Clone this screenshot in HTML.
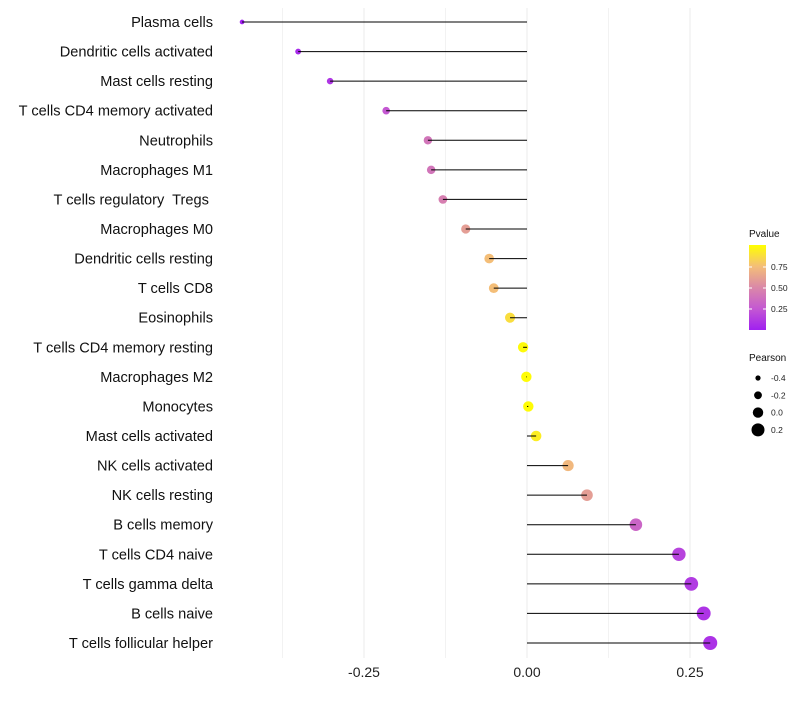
<!DOCTYPE html>
<html><head><meta charset="utf-8"><style>
body{margin:0;background:#fff;font-family:"Liberation Sans",sans-serif}
svg text{font-family:"Liberation Sans",sans-serif;white-space:pre}
</style></head><body>
<svg id="chart" width="800" height="700"></svg>
<script>
const categories=["Plasma cells","Dendritic cells activated","Mast cells resting","T cells CD4 memory activated","Neutrophils","Macrophages M1","T cells regulatory  Tregs ","Macrophages M0","Dendritic cells resting","T cells CD8","Eosinophils","T cells CD4 memory resting","Macrophages M2","Monocytes","Mast cells activated","NK cells activated","NK cells resting","B cells memory","T cells CD4 naive","T cells gamma delta","B cells naive","T cells follicular helper"];
const pearson=[-0.437,-0.351,-0.302,-0.216,-0.152,-0.147,-0.129,-0.094,-0.058,-0.051,-0.026,-0.006,-0.001,0.002,0.014,0.063,0.092,0.167,0.233,0.252,0.271,0.281];
const pvalue=[0.0,0.05,0.1,0.25,0.4,0.4,0.45,0.6,0.75,0.75,0.87,0.98,0.99,0.99,0.93,0.72,0.6,0.32,0.16,0.12,0.09,0.08];
const xTicks=[-0.25,0,0.25];
const xTickLabels=["-0.25","0.00","0.25"];
const pTicks=[0.25,0.5,0.75];
const pTickLabels=["0.25","0.50","0.75"];
const sizeLegend=[-0.4,-0.2,0.0,0.2];
const sizeLegendLabels=["-0.4","-0.2","0.0","0.2"];

const NS="http://www.w3.org/2000/svg";
const svg=document.getElementById('chart');
function mk(t,a,p){const e=document.createElementNS(NS,t);for(const k in a)e.setAttribute(k,a[k]);(p||svg).appendChild(e);return e;}
const x=v=>527+v*652;
const y=i=>22+i*(621/21);
const r=v=>Math.max(1.5,5.2+v*6.5);
function lerp(a,b,t){return a.map((c,i)=>Math.round(c+(b[i]-c)*t));}
const stops=[[0,[160,32,240]],[0.25,[196,88,210]],[0.5,[218,136,168]],[0.75,[244,190,120]],[1,[255,255,0]]];
function col(p){for(let i=1;i<stops.length;i++){if(p<=stops[i][0]){const t=(p-stops[i-1][0])/(stops[i][0]-stops[i-1][0]);const c=lerp(stops[i-1][1],stops[i][1],t);return `rgb(${c})`;}}return 'rgb(255,255,0)';}

[-0.375,-0.125,0.125].forEach(v=>{const g=mk('line',{x1:x(v),x2:x(v),y1:8,y2:658,stroke:'#f2f2f2','stroke-width':1});

});
xTicks.forEach((v,i)=>{const g=mk('line',{x1:x(v),x2:x(v),y1:8,y2:658,stroke:'#ebebeb','stroke-width':1});


const t=mk('text',{x:x(v),y:677,'text-anchor':'middle','font-size':14,fill:'#222'});t.textContent=xTickLabels[i];

});

categories.forEach((c,i)=>{
const t=mk('text',{x:213,y:y(i)+5,'text-anchor':'end','font-size':14.6,fill:'#111'});t.textContent=c;


const d=mk('circle',{cx:x(pearson[i]),cy:y(i),r:r(pearson[i]),fill:col(pvalue[i])});


const l=mk('line',{x1:x(0),x2:x(pearson[i]),y1:y(i),y2:y(i),stroke:'#000','stroke-width':1});


});

const defs=mk('defs',{});
const lg=mk('linearGradient',{id:'pg',x1:0,y1:1,x2:0,y2:0},defs);
stops.forEach(s=>mk('stop',{offset:s[0],'stop-color':`rgb(${s[1]})`},lg));
const lt=mk('text',{x:749,y:237,'font-size':10,fill:'#111'});lt.textContent='Pvalue';


const bar=mk('rect',{x:749,y:245,width:17,height:85,fill:'url(#pg)'});


pTicks.forEach((p,i)=>{const yy=330-p*84;
mk('line',{x1:749,x2:752,y1:yy,y2:yy,stroke:'#fff'});mk('line',{x1:763,x2:766,y1:yy,y2:yy,stroke:'#fff'});
const t=mk('text',{x:771,y:yy+3,'font-size':8.5,fill:'#222'});t.textContent=pTickLabels[i];

});
const st=mk('text',{x:749,y:361,'font-size':10,fill:'#111'});st.textContent='Pearson';


sizeLegend.forEach((v,i)=>{const yy=378+i*17.3;
const c=mk('circle',{cx:758,cy:yy,r:r(v),fill:'#000'});


const t=mk('text',{x:771,y:yy+3,'font-size':8.5,fill:'#222'});t.textContent=sizeLegendLabels[i];

});
</script>
</body></html>
